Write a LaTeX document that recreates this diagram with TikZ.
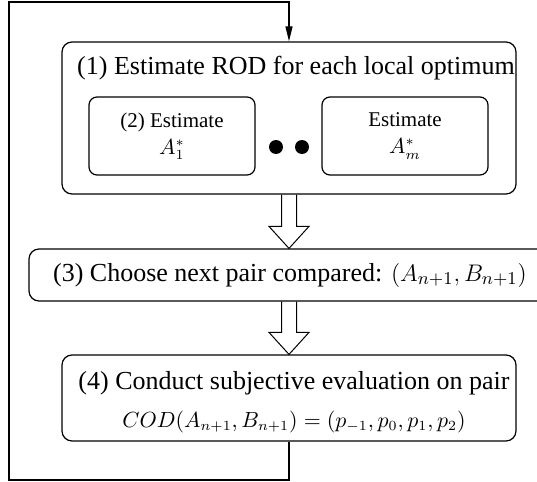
\documentclass[tikz,border=0pt]{standalone}
\usepackage{fontspec}
\setmainfont{Liberation Serif}
\usetikzlibrary{calc,arrows.meta}

\begin{document}
\begin{tikzpicture}[x=0.5pt, y=-0.5pt, line width=0.6pt,
                    big node/.style={draw,rounded corners=5pt},
                    small node/.style={draw,rounded corners=4pt,minimum width=83pt,minimum height=39pt,
                                       align=center,font=\fontsize{10.5}{13.5}\selectfont},
                    text node/.style={inner sep=0pt,align=center,font=\fontsize{13}{16}\selectfont},
                    dot node/.style={circle,fill,inner sep=0pt,minimum size=7pt},
                    hollow/.style={line width=0.5pt}]

  \useasboundingbox (0,0) rectangle (537,482);

  \node[big node,minimum width=227pt,minimum height=76pt] (1) at (289,118) {};
  \node[text node] (1t) at (296,68) {(1) Estimate ROD for each local optimum};
  \node[small node] (2) at (172,136) {(2) Estimate\\$A_1^*$};
  \node[small node] (m) at (405,136) {Estimate\\$A_m^*$};
  \node[dot node] (d1) at (276,147) {};
  \node[dot node] (d2) at (302,147) {};
  \node[big node,minimum width=260pt,minimum height=26pt] (3) at (289,275) {};
  \node[text node] (3t) at (290,275) {(3) Choose next pair compared: $(A_{n+1},B_{n+1})$};
  \node[big node,minimum width=227pt,minimum height=43pt] (4) at (289,398) {};
  \node[text node] (4t) at (294,383) {(4) Conduct subjective evaluation on pair};
  \node[text node,font=\fontsize{10.5}{13}\selectfont] (4f) at (294,422)
       {$COD(A_{n+1},B_{n+1})=(p_{-1},p_0,p_1,p_2)$};

  \coordinate (bl) at (9,480);
  \coordinate (top) at (289,2);

  % feedback loop
  \draw[-{Triangle[length=7.5pt,width=3.5pt]}] (4.south) |- (bl) |- (top) -- (1.north);

  % hollow arrows
  \draw[hollow] ($(1.south)+(-7.5,0)$) -- ($(3.north)+(-7.5,-22)$) -- ($(3.north)+(-20,-22)$)
    -- (3.north) -- ($(3.north)+(20,-22)$) -- ($(3.north)+(7.5,-22)$) -- ($(1.south)+(7.5,0)$);
  \draw[hollow] ($(3.south)+(-7.5,0)$) -- ($(4.north)+(-7.5,-22)$) -- ($(4.north)+(-20,-22)$)
    -- (4.north) -- ($(4.north)+(20,-22)$) -- ($(4.north)+(7.5,-22)$) -- ($(3.south)+(7.5,0)$);

\end{tikzpicture}
\end{document}
